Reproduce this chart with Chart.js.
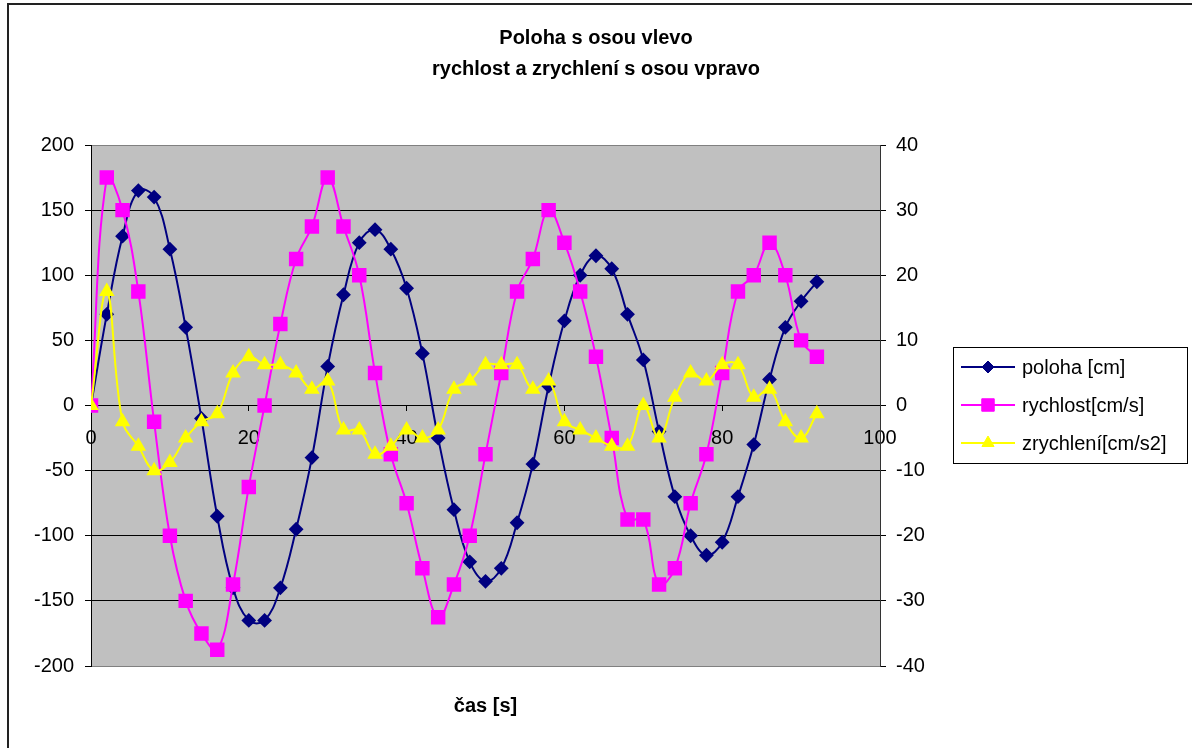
<!DOCTYPE html>
<html>
<head>
<meta charset="utf-8">
<script src="https://cdn.jsdelivr.net/npm/chart.js@4/dist/chart.umd.min.js"></script>
<style>
    body { margin: 0; background: #fff; }
    canvas { display: block; }
</style>
</head>
<body>
<canvas id="chart_poloha" width="1192" height="748"></canvas>
<script>
// time axis [s]
var cas = [0, 2, 4, 6, 8, 10, 12, 14, 16, 18, 20, 22, 24, 26, 28, 30, 32, 34, 36, 38, 40, 42, 44, 46,
    48, 50, 52, 54, 56, 58, 60, 62, 64, 66, 68, 70, 72, 74, 76, 78, 80, 82, 84, 86, 88, 90, 92];
// poloha [cm] - left axis
var poloha = [0, 70, 130, 165, 160, 120, 60, -10, -85, -140, -165, -165, -140, -95, -40, 30, 85, 125, 135,
    120, 90, 40, -25, -80, -120, -135, -125, -90, -45, 15, 65, 100, 115, 105, 70, 35, -20, -70, -100,
    -115, -105, -70, -30, 20, 60, 80, 95];
// rychlost [cm/s] - right axis
var rychlost = [0, 35, 30, 17.5, -2.5, -20, -30, -35, -37.5, -27.5, -12.5, 0, 12.5, 22.5, 27.5, 35, 27.5,
    20, 5, -7.5, -15, -25, -32.5, -27.5, -20, -7.5, 5, 17.5, 22.5, 30, 25, 17.5, 7.5, -5, -17.5, -17.5,
    -27.5, -25, -15, -7.5, 5, 17.5, 20, 25, 20, 10, 7.5];
// zrychleni [cm/s2] - right axis
var zrychleni = [0, 17.5, -2.5, -6.25, -10, -8.75, -5, -2.5, -1.25, 5, 7.5, 6.25, 6.25, 5, 2.5, 3.75, -3.75,
    -3.75, -7.5, -6.25, -3.75, -5, -3.75, 2.5, 3.75, 6.25, 6.25, 6.25, 2.5, 3.75, -2.5, -3.75, -5, -6.25,
    -6.25, 0, -5, 1.25, 5, 3.75, 6.25, 6.25, 1.25, 2.5, -2.5, -5, -1.25];

var titulek = ['Poloha s osou vlevo', 'rychlost a zrychlení s osou vpravo'];
var osaX = 'čas [s]';
var popisky = ['poloha [cm]', 'rychlost[cm/s]', 'zrychlení[cm/s2]'];

var toPoints = function (ys) {
    return cas.map(function (t, i) { return { x: t, y: ys[i] }; });
};

Chart.defaults.font.family = '"Liberation Sans", Arial, sans-serif';
Chart.defaults.color = '#000';

// grey plot area + outer frame
var plotBackground = {
    id: 'plotBackground',
    beforeDraw: function (chart) {
        var ctx = chart.ctx, a = chart.chartArea;
        ctx.save();
        ctx.fillStyle = '#fff';
        ctx.fillRect(0, 0, chart.width, chart.height);
        ctx.fillStyle = '#c0c0c0';
        ctx.fillRect(a.left, a.top, a.right - a.left, a.bottom - a.top);
        ctx.strokeStyle = '#222';
        ctx.lineWidth = 2;
        ctx.strokeRect(8, 4, 1300, 900);
        ctx.restore();
    }
};

// excel-like legend box with line + marker samples
var boxLegend = {
    id: 'boxLegend',
    afterDraw: function (chart) {
        var ctx = chart.ctx;
        var bx = 953, by = 347, bw = 234, bh = 116;
        ctx.save();
        ctx.fillStyle = '#fff';
        ctx.fillRect(bx, by, bw, bh);
        ctx.strokeStyle = '#000';
        ctx.lineWidth = 1;
        ctx.strokeRect(bx + 0.5, by + 0.5, bw, bh);
        chart.data.datasets.forEach(function (ds, i) {
            var y = 367 + i * 38;
            ctx.strokeStyle = ds.borderColor;
            ctx.lineWidth = 2;
            ctx.beginPath();
            ctx.moveTo(961, y);
            ctx.lineTo(1015, y);
            ctx.stroke();
            ctx.fillStyle = ds.pointBackgroundColor;
            ctx.strokeStyle = ds.borderColor;
            ctx.lineWidth = 1;
            Chart.helpers.drawPoint(ctx, {
                pointStyle: ds.pointStyle, radius: ds.pointRadius, rotation: 0, borderWidth: 1
            }, 988, y);
            ctx.fillStyle = '#000';
            ctx.font = '20px "Liberation Sans", Arial, sans-serif';
            ctx.textBaseline = 'middle';
            ctx.textAlign = 'left';
            ctx.fillText(ds.label, 1022, y + 1);
        });
        ctx.restore();
    }
};

var tickFont = { size: 20 };

new Chart(document.getElementById('chart_poloha'), {
    type: 'line',
    data: {
        datasets: [{
            label: popisky[0],
            data: toPoints(poloha),
            yAxisID: 'y',
            borderColor: '#000080',
            pointBackgroundColor: '#000080',
            pointStyle: 'rectRot',
            pointRadius: 6,
            borderWidth: 2,
            order: 2
        }, {
            label: popisky[1],
            data: toPoints(rychlost),
            yAxisID: 'y1',
            borderColor: '#ff00ff',
            pointBackgroundColor: '#ff00ff',
            pointStyle: 'rect',
            pointRadius: 8.8,
            borderWidth: 2,
            order: 1
        }, {
            label: popisky[2],
            data: toPoints(zrychleni),
            yAxisID: 'y1',
            borderColor: '#ffff00',
            pointBackgroundColor: '#ffff00',
            pointStyle: 'triangle',
            pointRadius: 7,
            borderWidth: 2,
            order: 0
        }]
    },
    options: {
        responsive: false,
        animation: false,
        layout: { padding: { left: 0, right: 0, top: 0, bottom: 27 } },
        elements: {
            line: { tension: 0.4 },
            point: { borderWidth: 1, hoverRadius: 8 }
        },
        plugins: {
            legend: { display: false },
            tooltip: { enabled: false },
            title: {
                display: true,
                text: titulek,
                color: '#000',
                font: { size: 20, weight: 'bold', lineHeight: 1.55 },
                padding: { top: 22.5, bottom: 60.5 }
            }
        },
        scales: {
            x: {
                type: 'linear',
                position: { y: 0 },
                min: 0,
                max: 100,
                ticks: { stepSize: 20, font: tickFont, padding: 16, maxRotation: 0 },
                grid: { drawOnChartArea: false, tickLength: 5, color: '#000' },
                border: { color: '#000', width: 1 }
            },
            x2: {
                type: 'linear',
                position: 'bottom',
                min: 0,
                max: 100,
                ticks: { display: false },
                grid: { display: false },
                border: { display: false },
                title: {
                    display: true,
                    text: osaX,
                    font: { size: 20, weight: 'bold', lineHeight: 1.2 },
                    padding: { top: 20, bottom: 3 }
                }
            },
            y: {
                type: 'linear',
                position: 'left',
                min: -200,
                max: 200,
                ticks: { stepSize: 50, font: tickFont, padding: 11 },
                grid: {
                    color: function (c) {
                        return (c.tick && Math.abs(c.tick.value) === 200) ? '#808080' : '#000';
                    },
                    tickColor: '#000',
                    tickLength: 6
                },
                border: { color: '#000', width: 1 },
                afterFit: function (scale) { scale.width = 91; }
            },
            y1: {
                type: 'linear',
                position: 'right',
                min: -40,
                max: 40,
                ticks: { stepSize: 10, font: tickFont, padding: 10 },
                grid: { drawOnChartArea: false, color: '#000', tickLength: 6 },
                border: { color: '#333', width: 1 },
                afterFit: function (scale) { scale.width = 1192 - 880; }
            }
        }
    },
    plugins: [plotBackground, boxLegend]
});
</script>
</body>
</html>
